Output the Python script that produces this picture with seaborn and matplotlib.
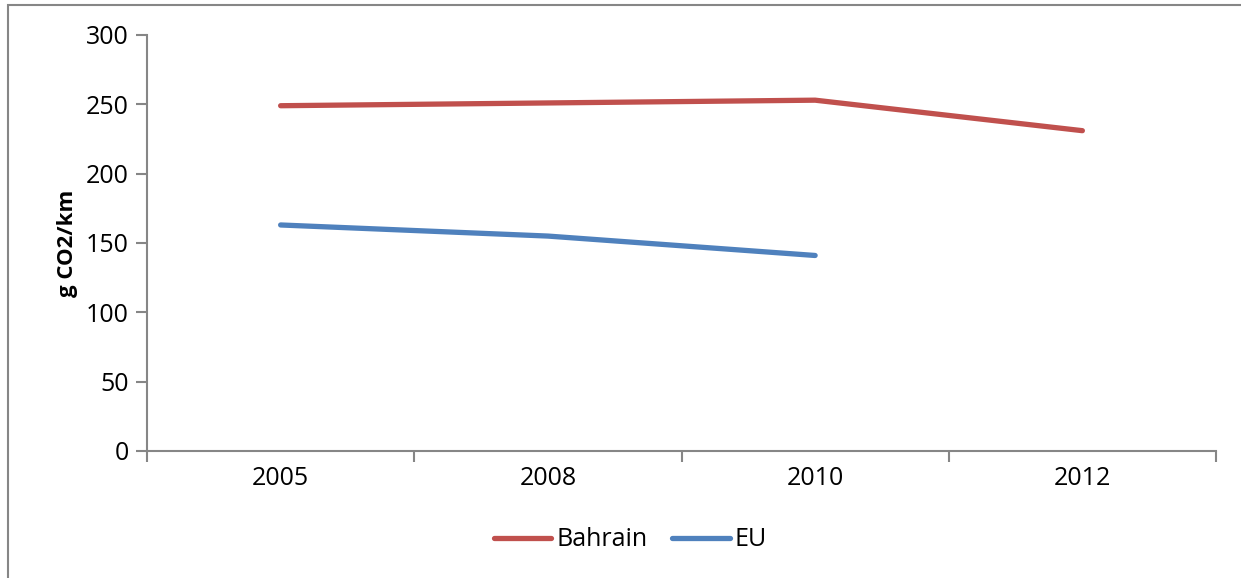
import matplotlib
matplotlib.use("Agg")
import matplotlib.pyplot as plt
import matplotlib.patches as mpatches
import seaborn as sns
import pandas as pd
import numpy as np

# Data
years = ["2005", "2008", "2010", "2012"]
bahrain = [249, 251, 253, 231]
eu = [163, 155, 141, np.nan]

df = pd.DataFrame({
    "year": years * 2,
    "value": bahrain + eu,
    "region": ["Bahrain"] * len(years) + ["EU"] * len(years),
}).dropna()

sns.set_style("white")
plt.rcParams["font.family"] = ["Open Sans", "DejaVu Sans"]
plt.rcParams["text.color"] = "black"
plt.rcParams["axes.labelcolor"] = "black"
plt.rcParams["xtick.labelcolor"] = "black"
plt.rcParams["ytick.labelcolor"] = "black"

W, H = 1241, 578
fig = plt.figure(figsize=(W / 100, H / 100), dpi=100)
ax = fig.add_axes([147 / W, 1 - 451 / H, (1216 - 147) / W, (451 - 35) / H])

palette = {"Bahrain": "#C0504D", "EU": "#4F81BD"}
sns.lineplot(data=df, x="year", y="value", hue="region", palette=palette,
             linewidth=3.8, sort=False, ax=ax)
for line in ax.get_lines():
    line.set_solid_capstyle("round")

ax.set_xlim(-0.5, len(years) - 0.5)
ax.set_ylim(0, 300)
ax.set_yticks(range(0, 301, 50))
ax.set_xticks(range(len(years)))
ax.set_xticklabels(years)
ax.set_xticks(np.arange(-0.5, len(years), 1.0), minor=True)

grey = "#868686"
for side in ["top", "right"]:
    ax.spines[side].set_visible(False)
for side in ["left", "bottom"]:
    ax.spines[side].set_color(grey)
    ax.spines[side].set_linewidth(1.5)

ax.tick_params(axis="y", which="major", direction="out", length=8, width=1.5,
               color=grey, labelsize=18, pad=5, left=True)
ax.tick_params(axis="x", which="major", length=0, labelsize=18, pad=11)
ax.tick_params(axis="x", which="minor", direction="out", length=8, width=1.5,
               color=grey, bottom=True)

ax.set_xlabel("")
ax.set_ylabel("g CO2/km", fontsize=16, fontweight="bold", labelpad=6)

leg = ax.legend(loc="center", bbox_to_anchor=(0.508, 0.066),
                bbox_transform=fig.transFigure, ncol=2, frameon=False,
                fontsize=18, handlelength=2.3, columnspacing=1.0,
                handletextpad=0.2, title=None)
for h in leg.get_lines():
    h.set_linewidth(3.8)
    h.set_solid_capstyle("round")

# outer chart border
fig.patches.append(mpatches.Rectangle((8 / W, -0.1), 1.2, (H - 5) / H + 0.1,
                                      transform=fig.transFigure, fill=False,
                                      edgecolor=grey, linewidth=1.5))

fig.savefig("out.png", dpi=100)
